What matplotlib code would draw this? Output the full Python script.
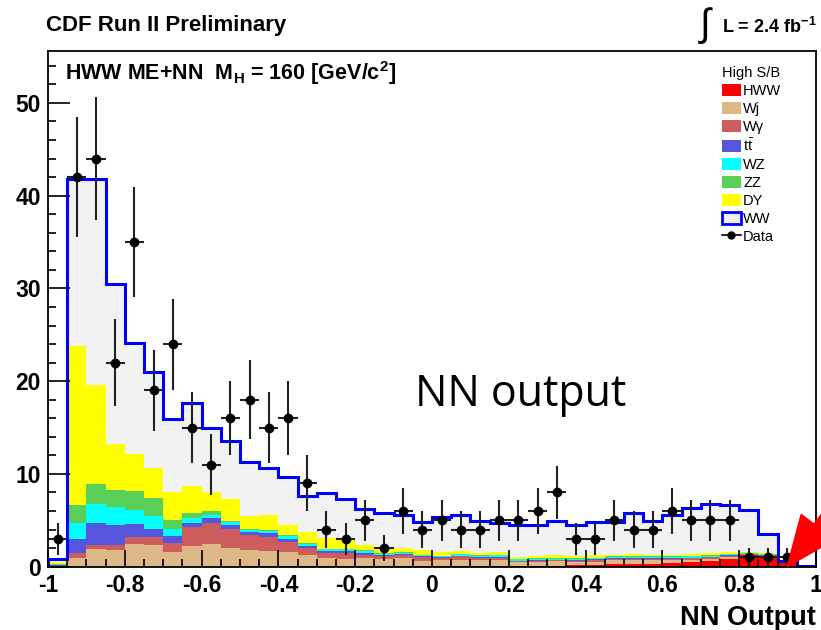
import numpy as np
import matplotlib
matplotlib.use("Agg")
import matplotlib.pyplot as plt
from matplotlib.patches import Patch
from matplotlib.lines import Line2D

# NN output binning: 40 bins from -1 to 1
bin_edges = np.linspace(-1.0, 1.0, 41)

# expected yields per bin (stack order bottom -> top)
hww = [0, 0, 0, 0, 0, 0, 0, 0, 0, 0,
       0.03, 0.03, 0.03, 0.03, 0.03, 0.03, 0.04, 0.04, 0.04, 0.05,
       0.05, 0.05, 0.06, 0.08, 0.08, 0.1, 0.12, 0.2, 0.2, 0.3,
       0.3, 0.3, 0.36, 0.55, 0.65, 0.8, 1.25, 1.15, 0.45, 0.05]
wj = [0.05, 0.9, 1.9, 1.8, 2.5, 2.3, 1.6, 2.2, 2.5, 2.0,
      1.75, 1.65, 1.55, 1.2, 0.95, 0.85, 0.85, 0.75, 0.85, 0.6,
      0.65, 0.65, 0.65, 0.65, 0.4, 0.45, 0.45, 0.3, 0.35, 0.4,
      0.4, 0.4, 0.35, 0.2, 0.2, 0.2, 0.05, 0.05, 0.02, 0.0]
wgamma = [0.05, 0.6, 0.4, 0.5, 0.7, 0.9, 1.0, 2.1, 2.2, 2.1,
          1.6, 1.5, 1.1, 0.75, 0.5, 0.55, 0.4, 0.35, 0.35, 0.35,
          0.2, 0.4, 0.2, 0.25, 0.1, 0.1, 0.1, 0.15, 0.15, 0.15,
          0.15, 0.15, 0.15, 0.15, 0.15, 0.15, 0.05, 0.05, 0.02, 0.0]
ttbar = [0.05, 1.5, 2.4, 2.2, 1.4, 0.9, 0.7, 0.4, 0.5, 0.4,
         0.4, 0.4, 0.35, 0.2, 0.2, 0.25, 0.2, 0.1, 0.1, 0.1,
         0.1, 0.1, 0.1, 0.1, 0.08, 0.08, 0.08, 0.08, 0.08, 0.08,
         0.08, 0.08, 0.08, 0.08, 0.08, 0.08, 0.05, 0.05, 0.02, 0.0]
wz = [0.05, 1.7, 2.1, 1.9, 1.5, 1.4, 0.8, 0.6, 0.4, 0.3,
      0.15, 0.25, 0.25, 0.25, 0.2, 0.2, 0.2, 0.15, 0.15, 0.15,
      0.15, 0.15, 0.15, 0.15, 0.12, 0.12, 0.12, 0.12, 0.12, 0.12,
      0.12, 0.12, 0.12, 0.12, 0.12, 0.12, 0.05, 0.05, 0.02, 0.0]
zz = [0.05, 1.9, 2.1, 1.9, 2.1, 1.9, 0.9, 0.5, 0.4, 0.1,
      0.1, 0.1, 0.1, 0.08, 0.08, 0.08, 0.06, 0.06, 0.06, 0.06,
      0.05, 0.05, 0.05, 0.05, 0.05, 0.05, 0.05, 0.05, 0.05, 0.05,
      0.05, 0.05, 0.05, 0.05, 0.05, 0.05, 0.03, 0.03, 0.01, 0.0]
dy = [0.3, 17.2, 10.7, 4.9, 4.0, 3.2, 3.1, 2.9, 2.1, 2.35,
      1.4, 1.6, 1.15, 1.2, 1.1, 1.0, 0.55, 0.55, 0.5, 0.5,
      0.35, 0.25, 0.3, 0.35, 0.2, 0.3, 0.3, 0.25, 0.3, 0.2,
      0.3, 0.15, 0.2, 0.25, 0.25, 0.2, 0.1, 0.1, 0.02, 0.0]
ww = [0.3, 18.0, 22.2, 17.3, 11.9, 10.4, 7.8, 8.9, 6.8, 6.35,
      5.87, 5.07, 5.17, 3.94, 4.84, 4.34, 3.9, 3.8, 3.55, 3.04,
      3.85, 3.95, 3.45, 3.04, 3.47, 3.3, 3.74, 3.35, 3.6, 3.55,
      4.4, 3.71, 4.29, 4.9, 5.3, 5.0, 4.52, 2.02, 0.04, 0.05]

# observed events per bin
data = [3, 42, 44, 22, 35, 19, 24, 15, 11, 16,
        18, 15, 16, 9, 4, 3, 5, 2, 6, 4,
        5, 4, 4, 5, 5, 6, 8, 3, 3, 5,
        4, 4, 6, 5, 5, 5, 1, 1, 1, 0]

process_names = ["HWW", "Wj", "W\u03b3", r"t$\bar{\rm t}$", "WZ", "ZZ", "DY"]
process_colors = ["#ff0000", "#deb887", "#cd5c5c", "#5555dd", "#00ffff", "#59d159", "#ffff00"]
ww_fill = "#f2f2f2"
ww_line = "#0000ff"


def main():
    plt.rcParams['font.family'] = ['Liberation Sans', 'DejaVu Sans']
    plt.rcParams['mathtext.fontset'] = 'custom'
    plt.rcParams['mathtext.rm'] = 'Liberation Sans'
    plt.rcParams['mathtext.it'] = 'Liberation Sans:italic'
    plt.rcParams['mathtext.bf'] = 'Liberation Sans:bold'
    plt.rcParams['mathtext.default'] = 'regular'

    W, H = 821, 630
    fig = plt.figure(figsize=(W / 100, H / 100), dpi=100)
    ax = fig.add_axes([48 / W, (H - 566.7) / H, 768 / W, 515.7 / H])

    # stacked backgrounds
    bottom = np.zeros(len(bin_edges) - 1)
    for vals, col in zip([hww, wj, wgamma, ttbar, wz, zz, dy], process_colors):
        top = bottom + np.array(vals)
        ax.stairs(top, bin_edges, baseline=bottom, fill=True, color=col, lw=0)
        bottom = top
    total = bottom + np.array(ww)
    ax.stairs(total, bin_edges, baseline=bottom, fill=True, color=ww_fill, lw=0)
    ax.stairs(total, bin_edges, baseline=0, fill=False, color=ww_line, lw=2.2)

    # data points with sqrt(N) errors
    centers = 0.5 * (bin_edges[:-1] + bin_edges[1:])
    d = np.array(data, dtype=float)
    keep = d > 0
    ax.errorbar(centers[keep], d[keep], yerr=np.sqrt(d[keep]), xerr=0.025,
                fmt='o', color='black', ecolor='#222222', ms=6,
                elinewidth=1.5, capsize=0, zorder=5)

    ax.set_xlim(-1, 1)
    ax.set_ylim(0, 55.6)
    ax.set_xticks(np.arange(-1, 1.01, 0.2))
    ax.set_xticklabels(["-1", "-0.8", "-0.6", "-0.4", "-0.2", "0",
                        "0.2", "0.4", "0.6", "0.8", "1"])
    ax.set_xticks(np.arange(-1, 1.01, 0.05), minor=True)
    ax.set_yticks(np.arange(0, 51, 10))
    ax.set_yticks(np.arange(0, 55, 2), minor=True)
    ax.tick_params(axis='both', which='both', direction='in',
                   top=False, right=False, labelsize=16.5, pad=5)
    ax.tick_params(axis='y', which='major', length=16, width=1.2)
    ax.tick_params(axis='y', which='minor', length=6, width=1.2)
    ax.tick_params(axis='x', which='major', length=12, width=1.2)
    ax.tick_params(axis='x', which='minor', length=6, width=1.2)
    for lab in ax.get_xticklabels() + ax.get_yticklabels():
        lab.set_fontweight('bold')
    for sp in ax.spines.values():
        sp.set_linewidth(1.3)
        sp.set_zorder(10)

    ax.set_xlabel("NN Output", fontsize=19.5, fontweight='bold', loc='right', labelpad=6)

    # labels
    fig.text(46 / W, 1 - 25 / H, "CDF Run II Preliminary", fontsize=16,
             fontweight='bold', va='center', ha='left')
    fig.text(698 / W, 1 - 26 / H, r'$\int$', fontsize=28, va='center', ha='left')
    fig.text(722 / W, 1 - 27 / H, r'L = 2.4 fb$^{-1}$', fontsize=13,
             fontweight='bold', va='center', ha='left')
    ax.text(0.022, 0.958, r'HWW ME+NN  M$_H$ = 160 [GeV/c$^2$]', transform=ax.transAxes,
            fontsize=15.5, fontweight='bold', va='center', ha='left')
    fig.text(521 / W, 1 - 395 / H, "NN output", fontsize=31, family='Open Sans',
             va='center', ha='center')

    # legend
    handles = [Patch(facecolor=c, edgecolor='none') for c in process_colors]
    handles.append(Patch(facecolor='#eeeeee', edgecolor=ww_line, lw=2))
    handles.append(Line2D([], [], color='black', marker='o', ms=5, lw=1.2))
    labels = process_names + ["WW", "Data"]
    ax.legend(handles, labels, title="High S/B", loc='upper left',
              bbox_to_anchor=((722 - 48) / 768, (566.7 - 66) / 515.7),
              frameon=False, fontsize=10.5, title_fontsize=10.5,
              handlelength=1.3, handleheight=0.9, handletextpad=0.15,
              labelspacing=0.26, borderpad=0, borderaxespad=0,
              alignment='left')

    # red arrow pointing at the signal region
    ax.annotate('', xy=(0.925, 0.0), xytext=(1.07, 7.8), xycoords='data',
                arrowprops=dict(color='red', width=7, headwidth=30, headlength=36),
                annotation_clip=False, zorder=20)

    fig.savefig("out.png", dpi=100)


if __name__ == "__main__":
    main()
